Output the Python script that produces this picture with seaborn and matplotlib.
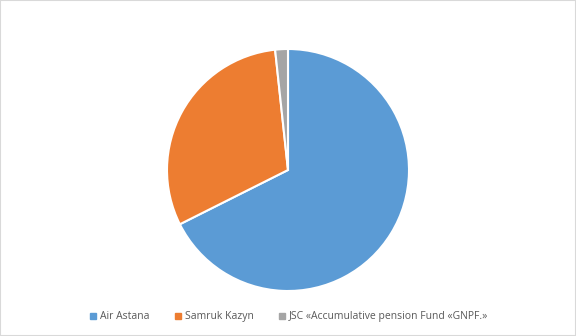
import matplotlib
matplotlib.use("Agg")
import matplotlib.pyplot as plt
import seaborn as sns
from matplotlib.lines import Line2D
from matplotlib.patches import Rectangle

sns.set_style("white")
plt.rcParams['font.family'] = ['Open Sans', 'DejaVu Sans']

labels = ["Air Astana", "Samruk Kazyn", "JSC «Accumulative pension Fund «GNPF.»"]
values = [67.6, 30.7, 1.7]
colors = sns.color_palette(["#5B9BD5", "#ED7D31", "#A5A5A5"])

fig = plt.figure(figsize=(5.76, 3.36), dpi=100)
fig.patches.append(Rectangle((0, 0), 1, 1, transform=fig.transFigure, fill=False,
                             edgecolor="#D9D9D9", linewidth=1.5))
ax = fig.add_axes([(288 - 121) / 576, (336 - 291) / 336, 242 / 576, 242 / 336])
ax.pie(values, colors=colors, startangle=90, counterclock=False,
       wedgeprops=dict(edgecolor="white", linewidth=1.5))
ax.set_xlim(-1.0, 1.0)
ax.set_ylim(-1.0, 1.0)
ax.set_aspect("equal")
ax.axis("off")

handles = [Line2D([0], [0], marker="s", linestyle="", markersize=4.5,
                  markerfacecolor=c, markeredgecolor=c) for c in colors]
fig.legend(handles, labels, loc="center", bbox_to_anchor=(0.5, 0.057), ncol=3,
           frameon=False, fontsize=7.5, labelcolor="#595959", handletextpad=0.2,
           columnspacing=2.2, handlelength=1.0)

fig.savefig("out.png", dpi=100)
